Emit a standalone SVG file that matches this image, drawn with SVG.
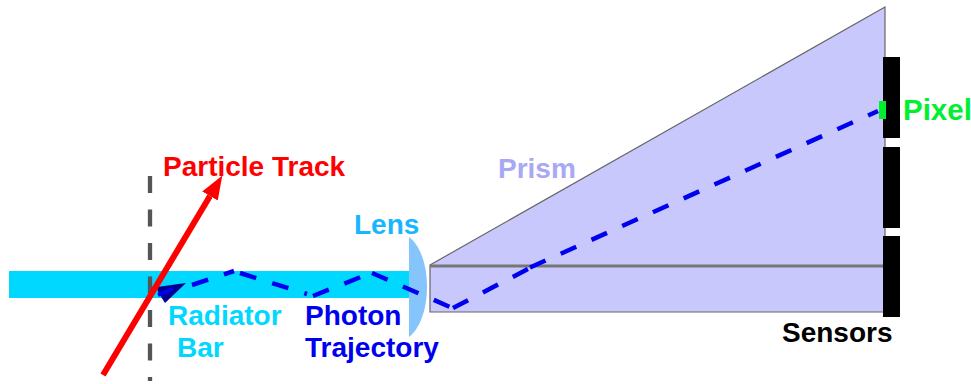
<svg xmlns="http://www.w3.org/2000/svg" width="971" height="384" viewBox="0 0 971 384">
<style>
text{font-family:"Liberation Sans",Arial,sans-serif;font-weight:700;font-size:28px}
.ph{fill:none;stroke:#0000f0;stroke-width:4.5;stroke-dasharray:17 16.7}
.s{fill:#000}
</style>
<defs>
<marker id="redhead" markerUnits="userSpaceOnUse" markerWidth="26" markerHeight="22" refX="0" refY="11" orient="auto">
<path d="M0 2L24 11L0 20Z" fill="#f00"/>
</marker>
</defs>
<rect width="971" height="384" fill="#fff"/>
<g id="radiator-bar"><rect x="9" y="271" width="400" height="27" fill="#00d8ff"/><text x="168" y="325" fill="#00d8ff">Radiator</text><text x="177" y="357" fill="#00d8ff">Bar</text></g>
<g id="lens"><path d="M409 237C433 255 433 318 409 337Z" fill="#85c5fb"/><text x="354" y="234" fill="#19b5ff">Lens</text></g>
<g id="prism"><path d="M430 265L885 7V312H430Z" fill="#c8c8fc" stroke="#666" stroke-width="1.2"/><path d="M430 266H885" stroke="#777" stroke-width="3" fill="none"/><text x="498" y="178" fill="#a8a8f4">Prism</text></g>
<g id="sensors"><rect class="s" x="883" y="57" width="17" height="81"/><rect class="s" x="883" y="147" width="17" height="81"/><rect class="s" x="883" y="236" width="17" height="81"/><text x="782" y="342" fill="#000">Sensors</text></g>
<g id="pixel"><rect x="879" y="101" width="7" height="18" fill="#00f030"/><text x="903" y="120" style="font-size:29.5px" fill="#00f030">Pixel</text></g>
<g id="connectors">
<path d="M150 176V381" fill="none" stroke="#555" stroke-width="4.3" stroke-dasharray="17 16.5"/>
<path class="ph" d="M192 285L234 271M240 273L307 294M313 296L362 276.5M372 273L450 307M453 308L528 269M530 267.5L878 111"/>
<path d="M157 287L186 283L165 303L158 292Z" fill="#000090"/>
<path d="M158 295L173 289" stroke="#0000f0" stroke-width="4" fill="none"/>
<path d="M103 375L210 196" fill="none" stroke="#f00" stroke-width="6" marker-end="url(#redhead)"/>
</g>
<g id="labels"><text x="163" y="176" fill="#f00">Particle Track</text><text x="305" y="325" fill="#0000f0">Photon</text><text x="305" y="357" fill="#0000f0">Trajectory</text></g>
</svg>
